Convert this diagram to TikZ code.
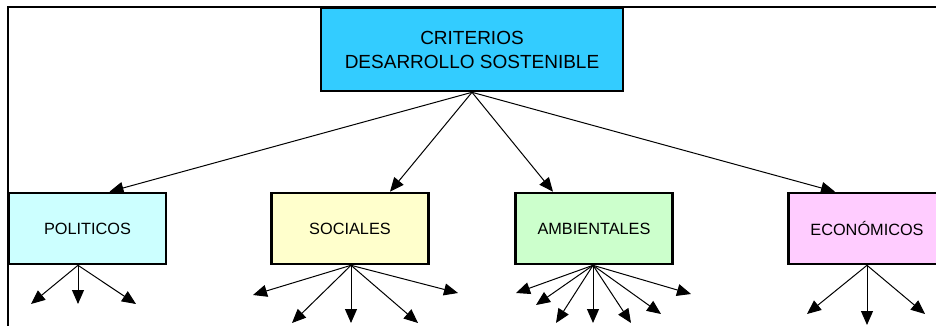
\documentclass[tikz,border=0pt]{standalone}
\usepackage{fontspec}
\setmainfont{Liberation Sans}
\usetikzlibrary{arrows.meta}
\definecolor{topc}{HTML}{33CCFF}
\definecolor{polc}{HTML}{CCFFFF}
\definecolor{socc}{HTML}{FFFFCC}
\definecolor{ambc}{HTML}{CCFFCC}
\definecolor{ecoc}{HTML}{FFCCFF}
\tikzset{
  box/.style={draw=black, line width=2.6pt, minimum width=157pt, minimum height=71pt, inner sep=0pt, font=\fontsize{16.3}{19}\selectfont},
  conn/.style={line width=1pt, -{Triangle[length=14pt,width=12pt]}},
  frame/.style={line width=2.2pt}
}
\begin{document}
\begin{tikzpicture}[x=1pt,y=-1pt]
\useasboundingbox (0,0) rectangle (936,326);
\clip (0,0) rectangle (936,326);
\fill[white] (0,0) rectangle (936,326);
% frame
\coordinate (ftl) at (8,7);
\coordinate (ftr) at (936,7);
\coordinate (fbl) at (8,326);
\draw[frame] (fbl) -- (ftl) -- (ftr);
% top box
\node[box, fill=topc, minimum width=302pt, minimum height=83pt, align=center,
      font=\fontsize{19}{24}\selectfont] (top) at (472,49.5) {CRITERIOS\\DESARROLLO SOSTENIBLE};
% category boxes
\node[box, fill=polc] (pol) at (87.5,228.5) {POLITICOS};
\node[box, fill=socc] (soc) at (350,228.5) {SOCIALES};
\node[box, fill=ambc] (amb) at (594,228.5) {AMBIENTALES};
\node[box, fill=ecoc] (eco) at (867,228.5) {ECONÓMICOS};
% top connectors
\draw[conn] (top.south) -- ([xshift=22pt]pol.north);
\draw[conn] (top.south) -- ([xshift=40pt]soc.north);
\draw[conn] (top.south) -- ([xshift=-41pt]amb.north);
\draw[conn] (top.south) -- ([xshift=-32pt]eco.north);
% sub-arrow tips
\coordinate (p1) at (31,304);
\coordinate (p2) at (78,304);
\coordinate (p3) at (136,304);
\coordinate (s1) at (253,295);
\coordinate (s2) at (292,323);
\coordinate (s3) at (351,323);
\coordinate (s4) at (418,323);
\coordinate (s5) at (458,293);
\coordinate (a1) at (516,293);
\coordinate (a2) at (536,305);
\coordinate (a3) at (556,323);
\coordinate (a4) at (593,323);
\coordinate (a5) at (631,323);
\coordinate (a6) at (661,314);
\coordinate (a7) at (691,294);
\coordinate (e1) at (807,314);
\coordinate (e2) at (867,325);
\coordinate (e3) at (925,314);
\foreach \t in {p1,p2,p3} \draw[conn] ([xshift=-9.5pt]pol.south) -- (\t);
\foreach \t in {s1,s2,s3,s4,s5} \draw[conn] ([xshift=1pt]soc.south) -- (\t);
\foreach \t in {a1,a2,a3,a4,a5,a6,a7} \draw[conn] ([xshift=-1pt]amb.south) -- (\t);
\foreach \t in {e1,e2,e3} \draw[conn] (eco.south) -- (\t);
\end{tikzpicture}
\end{document}
